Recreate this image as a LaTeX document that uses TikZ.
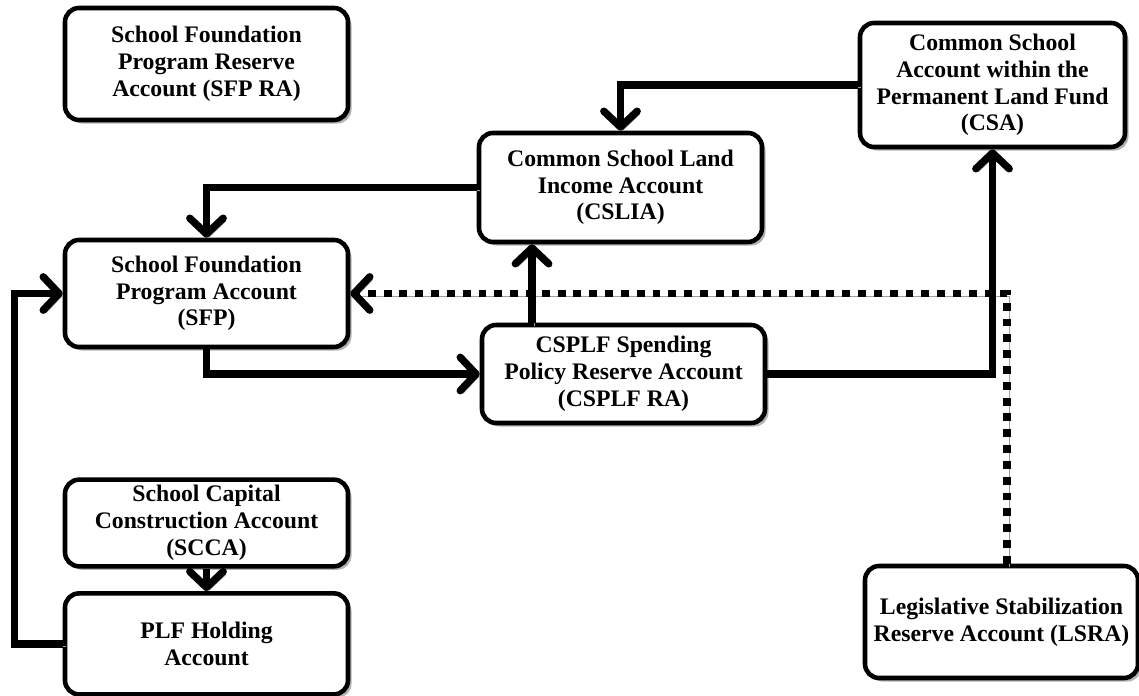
\documentclass[tikz,border=0pt]{standalone}
\usepackage{fontspec}
\setmainfont{Liberation Serif}
\usepackage{tikz}
\usetikzlibrary{arrows.meta, positioning, shadows}
\definecolor{ShadowGray}{RGB}{160, 160, 160}
\tikzset{
  acct/.style={rectangle, rounded corners=8pt, draw=black, line width=2.6pt, fill=white,
               minimum width=5.66cm, minimum height=#1, align=center,
               font=\fontsize{13.5}{15.2}\selectfont\bfseries,
               drop shadow={shadow xshift=2pt, shadow yshift=-2pt, fill=ShadowGray, opacity=0.8}},
  acct/.default=2.1cm,
  flow/.style={-{Straight Barb[length=9pt, width=19pt, line cap=round, line join=round]},
               line width=4.2pt, color=black,
               preaction={draw=ShadowGray, transform canvas={shift={(1.6pt,-1.6pt)}}}},
  dotflow/.style={flow, dash pattern=on 4.5pt off 4.5pt},
}
\begin{document}
\begin{tikzpicture}
      \useasboundingbox (0,0) rectangle (22.78,13.92);

      % left column
      \node[acct=2.24cm] (sfpra) at (4.13,12.64)
           {School Foundation\\Program Reserve\\Account (SFP RA)};
      \node[acct=2.14cm] (sfp) at (4.13,8.05)
           {School Foundation\\Program Account\\(SFP)};
      \node[acct=1.72cm] (scca) at (4.13,3.46)
           {School Capital\\Construction Account\\(SCCA)};
      \node[acct=2.02cm, below=0.45cm of scca] (plf)
           {PLF Holding\\Account};

      % middle and right
      \node[acct=2.18cm] (cslia) at (12.41,10.17)
           {Common School Land\\Income Account\\(CSLIA)};
      \node[acct=1.96cm] (csplf) at (12.47,6.44)
           {CSPLF Spending\\Policy Reserve Account\\(CSPLF RA)};
      \node[acct=2.48cm, minimum width=5.3cm] (csa) at (19.85,12.22)
           {Common School\\Account within the\\Permanent Land Fund\\(CSA)};
      \node[acct=2.24cm, minimum width=5.46cm] (lsra) at (20.03,1.48)
           {Legislative Stabilization\\Reserve Account (LSRA)};

      \draw[dotflow] ([xshift=0.11cm]lsra.north) |- (sfp.east);
      \draw[flow] (csa.west) -| (cslia.north);
      \draw[flow] (cslia.west) -| (sfp.north);
      \draw[flow] (sfp.south) |- (csplf.west);
      \draw[flow] ([xshift=-1.83cm]csplf.north) -- ([xshift=-1.83cm]csplf.north |- cslia.south);
      \draw[flow] (csplf.east) -| (csa.south);
      \draw[flow] (scca) -- (plf);
      \draw[flow] (plf.west) -- ++(-0.96,0) |- (sfp.west);
    \end{tikzpicture}
\end{document}
